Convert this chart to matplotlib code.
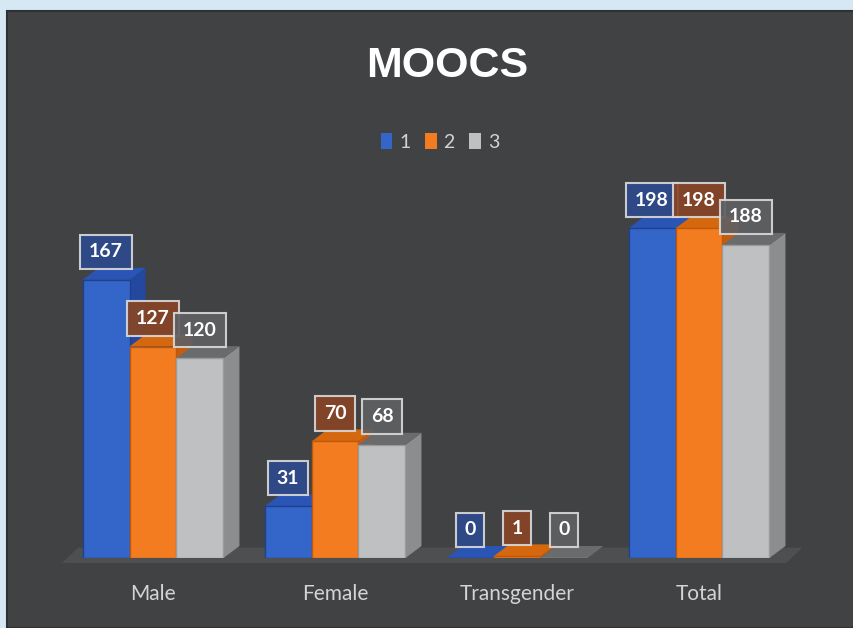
import matplotlib.pyplot as plt
from matplotlib.patches import Polygon, Patch, Rectangle

categories = ["Male", "Female", "Transgender", "Total"]
series_names = ["1", "2", "3"]
values_1 = [167, 31, 0, 198]
values_2 = [127, 70, 1, 198]
values_3 = [120, 68, 0, 188]

front_colors = ["#3466c9", "#f47c20", "#bfc0c2"]
side_colors = ["#2447a0", "#c45c0e", "#8c8d8f"]
top_colors = ["#2a55b4", "#d5680f", "#6a6b6d"]
edge_colors = ["#1f3f8f", "#c0580c", "#9a9b9d"]
box_colors = ["#2d4a8c", "#874526", "#5f6062"]

panel = "#404244"
bar_w = 0.258
dx, dy = 0.088, 7.2

fig = plt.figure(figsize=(8.54, 6.28), dpi=100, facecolor="#d5e8f3")
fig.patches.append(
    Rectangle((7 / 854, 0), 1, 1 - 11 / 628, transform=fig.transFigure,
              facecolor=panel, edgecolor="#2e3032", linewidth=1.5, zorder=-5)
)

ax = fig.add_axes([62 / 854, 70 / 628, 728 / 854, 388 / 628])
ax.set_zorder(1)
ax.set_facecolor("none")
ax.set_xlim(-0.5, 3.5)
ax.set_ylim(0, 233)
for s in ax.spines.values():
    s.set_visible(False)
ax.set_yticks([])
ax.set_xticks(range(len(categories)))
ax.set_xticklabels(categories, fontsize=15, color="#d4d4d4", family="Lato")
ax.tick_params(axis="x", length=0, pad=19)

# floor
x0, x1 = -0.5, 3.48
floor = Polygon([(x0, -3), (x1, -3), (x1 + dx, dy - 1), (x0 + dx, dy - 1)],
                closed=True, facecolor="#4e4f51", edgecolor="none",
                zorder=1, clip_on=False)
ax.add_patch(floor)

all_values = [values_1, values_2, values_3]
for i, vals in enumerate(all_values):
    z = 2 + i * 2
    for j, v in enumerate(vals):
        x = j + (i - 1) * bar_w
        left, right = x - bar_w / 2, x + bar_w / 2
        side = Polygon([(right, 0), (right + dx, dy), (right + dx, v + dy), (right, v)],
                       closed=True, facecolor=side_colors[i], edgecolor="none",
                       zorder=z, clip_on=False)
        top = Polygon([(left, v), (left + dx, v + dy), (right + dx, v + dy), (right, v)],
                      closed=True, facecolor=top_colors[i], edgecolor="none",
                      zorder=z, clip_on=False)
        ax.add_patch(side)
        ax.add_patch(top)
    xs = [j + (i - 1) * bar_w for j in range(len(vals))]
    ax.bar(xs, vals, width=bar_w, color=front_colors[i], edgecolor=edge_colors[i],
           linewidth=1, zorder=z + 1)

for i, vals in enumerate(all_values):
    for j, v in enumerate(vals):
        x = j + (i - 1) * bar_w
        ax.annotate(str(v), xy=(x, v + dy), xytext=(0, 5.5), textcoords="offset points",
                    ha="center", va="bottom", fontsize=14, fontweight="bold",
                    color="white", family="Lato", zorder=20 + i,
                    bbox=dict(boxstyle="square,pad=0.45", facecolor=box_colors[i],
                              edgecolor="#d8d8d8", linewidth=1.5, alpha=0.92))

fig.text(447 / 854, 1 - 66 / 628, "MOOCS", ha="center", va="center", fontsize=31,
         fontweight="bold", color="white", family="Liberation Sans")

handles = [Patch(facecolor=c, edgecolor="none") for c in front_colors]
leg = fig.legend(handles, series_names, loc="center", bbox_to_anchor=(440 / 854, 1 - 142 / 628),
                 ncol=3, frameon=False, fontsize=14, handlelength=0.6, handleheight=0.85,
                 handletextpad=0.35, columnspacing=0.75)
for t in leg.get_texts():
    t.set_color("#d4d4d4")
    t.set_family("Lato")

fig.savefig("out.png", dpi=100, facecolor=fig.get_facecolor())
